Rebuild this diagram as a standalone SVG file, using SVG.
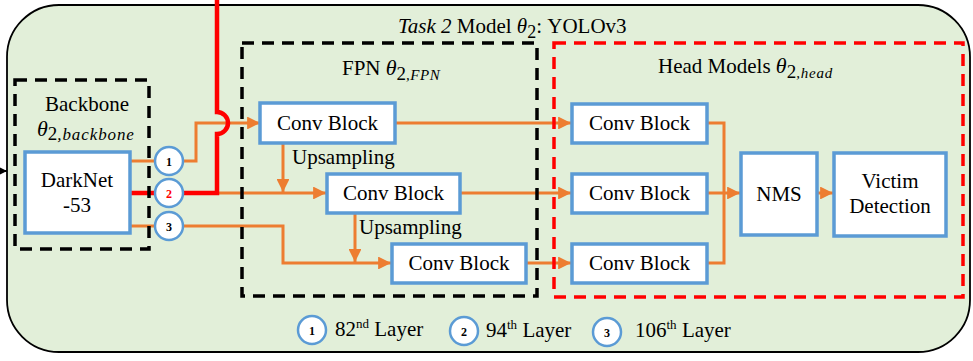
<svg xmlns="http://www.w3.org/2000/svg" width="973" height="361" viewBox="0 0 973 361">
<defs>
<marker id="ao" viewBox="0 0 10 10" refX="10" refY="5" markerWidth="4.3" markerHeight="4.3" orient="auto" markerUnits="strokeWidth"><path d="M0,0 L10,5 L0,10 z" fill="#ED7D31"/></marker>
<marker id="ak" viewBox="0 0 10 10" refX="10" refY="5" markerWidth="4" markerHeight="4" orient="auto" markerUnits="strokeWidth"><path d="M0,0 L10,5 L0,10 z" fill="#000"/></marker>
</defs>
<style>
.t{font-family:"Liberation Serif","Times New Roman",serif;font-size:21px;fill:#000}
.box{fill:#fff;stroke:#5B9BD5;stroke-width:3.5}
.o{fill:none;stroke:#ED7D31;stroke-width:3}
.oa{fill:none;stroke:#ED7D31;stroke-width:3;marker-end:url(#ao)}
.dk{fill:none;stroke:#000;stroke-width:3.5;stroke-dasharray:12,8}
.dr{fill:none;stroke:#FF0000;stroke-width:3.5;stroke-dasharray:12,8}
.c{fill:#fff;stroke:#5B9BD5;stroke-width:2.5}
.n{font-family:"Liberation Serif","Times New Roman",serif;font-size:12px;font-weight:bold;fill:#000}
.i{font-style:italic}
</style>
<g id="outer">
<rect x="7" y="5" width="963" height="347" rx="52" ry="52" fill="#E2EFD9" stroke="#000" stroke-width="1.8"/>
<text class="t" x="398" y="33"><tspan class="i">Task 2</tspan> Model <tspan class="i">θ</tspan><tspan font-size="18" dy="5">2</tspan><tspan dy="-5">: YOLOv3</tspan></text>
</g>
<g id="connectors">
<path d="M0,171 H7" stroke="#000" stroke-width="2" marker-end="url(#ak)"/>
<path class="o" d="M130,161 H155"/>
<path class="oa" d="M183,161 H196 V123 H260"/>
<path class="o" d="M130,226 H155"/>
<path class="oa" d="M183,226 H283 V263 H391"/>
<path class="oa" d="M217,193 H326"/>
<path d="M130,193 H217 V134 A11,11 0 0,0 217,112 V0" fill="none" stroke="#FF0000" stroke-width="4.5"/>
<path class="oa" d="M283,143 V192"/>
<path class="oa" d="M355,213 V262"/>
<path class="oa" d="M395,123 H571"/>
<path class="oa" d="M460,193 H571"/>
<path class="oa" d="M526,263 H571"/>
<path class="o" d="M707,123 H724 V263 H707"/>
<path class="oa" d="M707,193 H740"/>
<path class="oa" d="M817,193 H833"/>
</g>
<g id="backbone">
<rect class="dk" x="15" y="80" width="134" height="169"/>
<text class="t" x="87" y="111" text-anchor="middle">Backbone</text>
<text class="t" x="37" y="136"><tspan class="i" font-size="22">θ</tspan><tspan font-size="19" dy="4">2</tspan><tspan class="i" font-size="17" letter-spacing="0.9">,backbone</tspan></text>
</g>
<g id="darknet">
<rect class="box" x="25" y="152" width="105" height="81"/>
<text class="t" x="77" y="187" text-anchor="middle" font-size="22">DarkNet</text>
<text class="t" x="77" y="212" text-anchor="middle" font-size="22">-53</text>
</g>
<g id="c1"><circle class="c" cx="169" cy="161" r="14"/><text class="n" x="169" y="165.5" text-anchor="middle">1</text></g>
<g id="c2"><circle class="c" cx="169" cy="193" r="14"/><text class="n" x="169" y="197.5" text-anchor="middle" style="fill:#FF0000">2</text></g>
<g id="c3"><circle class="c" cx="169" cy="226" r="14"/><text class="n" x="169" y="230.5" text-anchor="middle">3</text></g>
<g id="fpn">
<rect class="dk" x="242" y="43" width="295" height="253"/>
<text class="t" x="342" y="75">FPN <tspan class="i" font-size="22">θ</tspan><tspan font-size="19" dy="5">2</tspan><tspan class="i" font-size="15" letter-spacing="0.5">,FPN</tspan></text>
</g>
<g id="fpn1"><rect class="box" x="260" y="103" width="135" height="40"/><text class="t" x="327.5" y="130" text-anchor="middle">Conv Block</text></g>
<g id="fpn2"><rect class="box" x="327" y="174" width="133" height="39"/><text class="t" x="393.5" y="200" text-anchor="middle">Conv Block</text></g>
<g id="fpn3"><rect class="box" x="392" y="244" width="134" height="39"/><text class="t" x="459" y="270" text-anchor="middle">Conv Block</text></g>
<g id="up1"><text class="t" x="292" y="164">Upsampling</text></g>
<g id="up2"><text class="t" x="359" y="234">Upsampling</text></g>
<g id="head">
<rect class="dr" x="554" y="43" width="409" height="254"/>
<text class="t" x="658" y="73">Head Models <tspan class="i" font-size="22">θ</tspan><tspan font-size="19" dy="5">2</tspan><tspan class="i" font-size="15" letter-spacing="0.8">,head</tspan></text>
</g>
<g id="h1"><rect class="box" x="572" y="104" width="135" height="39"/><text class="t" x="639.5" y="130" text-anchor="middle">Conv Block</text></g>
<g id="h2"><rect class="box" x="572" y="174" width="135" height="39"/><text class="t" x="639.5" y="200" text-anchor="middle">Conv Block</text></g>
<g id="h3"><rect class="box" x="572" y="244" width="135" height="39"/><text class="t" x="639.5" y="270" text-anchor="middle">Conv Block</text></g>
<g id="nms"><rect class="box" x="741" y="153" width="76" height="82"/><text class="t" x="779" y="201" text-anchor="middle">NMS</text></g>
<g id="victim"><rect class="box" x="834" y="153" width="112" height="83"/><text class="t" x="890" y="188" text-anchor="middle">Victim</text><text class="t" x="890" y="213" text-anchor="middle">Detection</text></g>
<g id="legend">
<circle class="c" cx="312" cy="330" r="14"/><text class="n" x="312" y="334.5" text-anchor="middle">1</text>
<text class="t" x="335" y="336">82<tspan font-size="13" dy="-8">nd</tspan><tspan dy="8"> Layer</tspan></text>
<circle class="c" cx="464" cy="331" r="14"/><text class="n" x="464" y="335.5" text-anchor="middle">2</text>
<text class="t" x="486" y="337">94<tspan font-size="13" dy="-8">th</tspan><tspan dy="8"> Layer</tspan></text>
<circle class="c" cx="607" cy="332" r="14"/><text class="n" x="607" y="336.5" text-anchor="middle">3</text>
<text class="t" x="635" y="337">106<tspan font-size="13" dy="-8">th</tspan><tspan dy="8"> Layer</tspan></text>
</g>
</svg>
